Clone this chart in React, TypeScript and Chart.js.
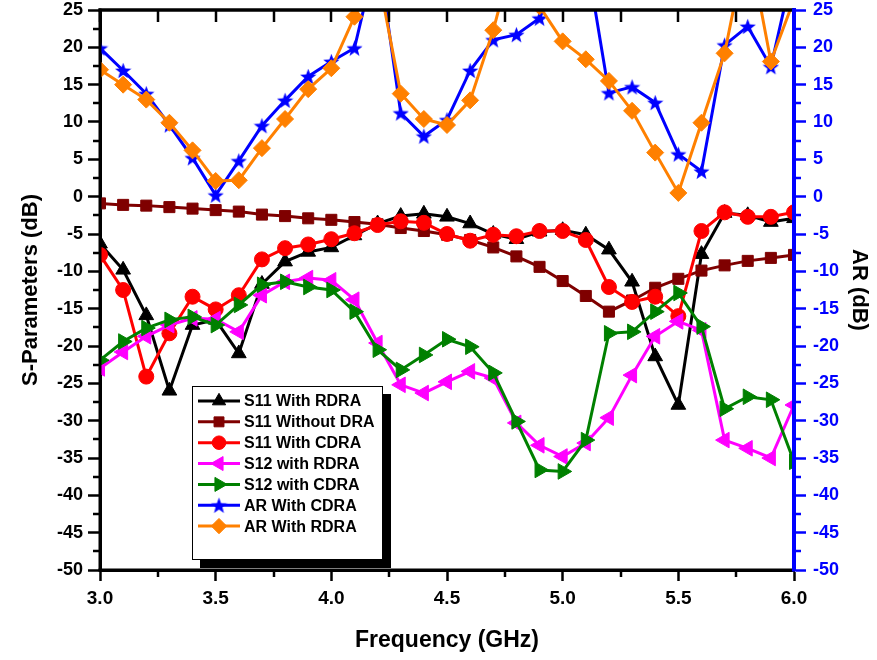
import React, { useEffect, useRef } from 'react';
import { Chart, registerables } from 'chart.js';
import { drawPoint } from 'chart.js/helpers';

Chart.register(...registerables);

// ---------------- data ----------------
const freqGHz = [3.0, 3.1, 3.2, 3.3, 3.4, 3.5, 3.6, 3.7, 3.8, 3.9, 4.0, 4.1, 4.2, 4.3, 4.4, 4.5, 4.6, 4.7, 4.8, 4.9, 5.0, 5.1, 5.2, 5.3, 5.4, 5.5, 5.6, 5.7, 5.8, 5.9, 6.0];

const s11WithRDRA = [-6.3, -9.8, -15.9, -26.0, -17.2, -16.5, -21.0, -11.7, -8.7, -7.4, -6.8, -5.2, -3.6, -2.6, -2.3, -2.7, -3.6, -5.0, -5.7, -4.7, -4.5, -5.1, -7.1, -11.4, -21.4, -27.9, -7.7, -2.2, -2.5, -3.4, -2.9];
const s11WithoutDRA = [-0.9, -1.1, -1.2, -1.4, -1.6, -1.8, -2.0, -2.4, -2.6, -2.9, -3.1, -3.4, -3.7, -4.2, -4.6, -5.1, -5.8, -6.8, -8.0, -9.4, -11.3, -13.3, -15.4, -13.9, -12.2, -11.0, -9.9, -9.2, -8.6, -8.2, -7.8];
const s11WithCDRA = [-7.8, -12.5, -24.1, -18.3, -13.4, -15.1, -13.2, -8.4, -6.9, -6.4, -5.7, -4.9, -3.8, -3.3, -3.5, -5.0, -5.9, -5.1, -5.3, -4.6, -4.6, -5.8, -12.1, -14.1, -13.4, -16.0, -4.6, -2.1, -2.7, -2.7, -2.1];
const s12WithRDRA = [-23.0, -20.8, -18.7, -17.2, -16.3, -16.4, -18.1, -13.2, -11.4, -10.9, -11.2, -13.8, -19.6, -25.2, -26.3, -24.8, -23.4, -24.3, -30.3, -33.3, -34.8, -33.0, -29.6, -23.9, -18.7, -16.7, -17.9, -32.6, -33.7, -35.0, -27.9];
const s12WithCDRA = [-21.9, -19.4, -17.6, -16.5, -16.1, -17.2, -14.5, -11.8, -11.4, -12.1, -12.5, -15.4, -20.5, -23.2, -21.2, -19.1, -20.1, -23.6, -30.1, -36.6, -36.8, -32.6, -18.3, -18.1, -15.4, -12.9, -17.4, -28.4, -26.8, -27.2, -35.5];
const arWithCDRA = [19.9, 16.9, 13.8, 9.6, 5.2, 0.2, 4.8, 9.5, 12.9, 16.1, 18.1, 19.9, 33.0, 11.2, 8.1, 10.3, 16.9, 21.0, 21.7, 23.9, 31.0, 32.6, 13.9, 14.7, 12.6, 5.7, 3.4, 20.3, 22.8, 17.4, 31.0];
const arWithRDRA = [17.0, 15.0, 13.0, 9.9, 6.2, 2.1, 2.2, 6.5, 10.4, 14.4, 17.2, 24.1, 30.0, 13.8, 10.4, 9.6, 12.9, 22.3, 34.0, 25.5, 20.8, 18.4, 15.5, 11.5, 5.9, 0.5, 9.9, 19.2, 34.5, 18.1, 26.4];

const seriesLabels = ['S11 With RDRA', 'S11 Without DRA', 'S11 With CDRA', 'S12 with RDRA', 'S12 with CDRA', 'AR With CDRA', 'AR With RDRA'];
const seriesValues = [s11WithRDRA, s11WithoutDRA, s11WithCDRA, s12WithRDRA, s12WithCDRA, arWithCDRA, arWithRDRA];

const xTickLabels = ['3.0', '3.5', '4.0', '4.5', '5.0', '5.5', '6.0'];

// ---------------- styles ----------------
const seriesColors = ['#000000', '#7f0000', '#ff0000', '#ff00ff', '#008000', '#0000ff', '#ff8000'];
const seriesMarkers = ['triangle', 'rect', 'circle', 'triangle', 'triangle', 'star', 'rectRot'];
const seriesRotation = [0, 0, 0, -90, 90, 0, 0];
const seriesRadius = [8.5, 7.8, 7.5, 9, 9, 8, 8.5];
const seriesAxis = ['y', 'y', 'y', 'y', 'y', 'y1', 'y1'];

const FONT = "'Liberation Sans', Arial, Helvetica, sans-serif";

function makeStar(color: string, size: number) {
  const c = document.createElement('canvas');
  c.width = size;
  c.height = size;
  const g = c.getContext('2d')!;
  const cx = size / 2;
  const cy = size / 2 + 0.8;
  const R = size / 2;
  const r = R * 0.42;
  g.beginPath();
  for (let k = 0; k < 10; k++) {
    const ang = -Math.PI / 2 + (k * Math.PI) / 5;
    const rad = k % 2 === 0 ? R : r;
    const px = cx + rad * Math.cos(ang);
    const py = cy + rad * Math.sin(ang);
    if (k === 0) g.moveTo(px, py);
    else g.lineTo(px, py);
  }
  g.closePath();
  g.fillStyle = color;
  g.fill();
  return c;
}

const framePlugin = {
  id: 'originFrame',
  afterDatasetsDraw(chart: any) {
    const { ctx, chartArea } = chart;
    const { left, right, top, bottom } = chartArea;
    const xs = chart.scales.x;
    const ys = chart.scales.y;
    const y1 = chart.scales.y1;
    ctx.save();
    ctx.lineCap = 'butt';
    ctx.setLineDash([]);
    ctx.strokeStyle = '#000';
    ctx.lineWidth = 2.5;
    for (let k = 0; k <= 12; k++) {
      const v = 3 + k * 0.25;
      const px = Math.round(xs.getPixelForValue(v));
      ctx.beginPath();
      ctx.moveTo(px, top);
      ctx.lineTo(px, top + 12);
      ctx.stroke();
      if (k % 2 === 1) {
        ctx.beginPath();
        ctx.moveTo(px, bottom);
        ctx.lineTo(px, bottom + 7);
        ctx.stroke();
      }
    }
    for (let k = 0; k < 15; k++) {
      const v = -47.5 + k * 5;
      const py = Math.round(ys.getPixelForValue(v));
      ctx.strokeStyle = '#000';
      ctx.beginPath();
      ctx.moveTo(left, py);
      ctx.lineTo(left - 7, py);
      ctx.stroke();
      const py1 = Math.round(y1.getPixelForValue(v));
      ctx.strokeStyle = '#0000ff';
      ctx.beginPath();
      ctx.moveTo(right, py1);
      ctx.lineTo(right + 7, py1);
      ctx.stroke();
    }
    ctx.strokeStyle = '#000';
    ctx.lineWidth = 3.5;
    ctx.beginPath();
    ctx.moveTo(left - 1.5, top);
    ctx.lineTo(right, top);
    ctx.stroke();
    ctx.lineWidth = 3;
    ctx.beginPath();
    ctx.moveTo(left, top - 1.5);
    ctx.lineTo(left, bottom + 1.5);
    ctx.stroke();
    ctx.beginPath();
    ctx.moveTo(left - 1.5, bottom);
    ctx.lineTo(right, bottom);
    ctx.stroke();
    ctx.strokeStyle = '#0000ff';
    ctx.lineWidth = 4;
    ctx.beginPath();
    ctx.moveTo(right, top - 1.75);
    ctx.lineTo(right, bottom + 1.5);
    ctx.stroke();
    ctx.restore();
  },
};

const boxLegendPlugin = {
  id: 'boxLegend',
  afterDraw(chart: any) {
    const { ctx, chartArea } = chart;
    const bx = chartArea.left + 92;
    const by = chartArea.top + 376;
    const bw = 191;
    const bh = 174;
    ctx.save();
    ctx.fillStyle = '#000';
    ctx.fillRect(bx + 8, by + 8, bw, bh);
    ctx.fillStyle = '#fff';
    ctx.fillRect(bx, by, bw, bh);
    ctx.strokeStyle = '#000';
    ctx.lineWidth = 1;
    ctx.strokeRect(bx + 0.5, by + 0.5, bw - 1, bh - 1);
    ctx.font = `bold 16px ${FONT}`;
    ctx.textBaseline = 'middle';
    ctx.textAlign = 'left';
    chart.data.datasets.forEach((ds: any, i: number) => {
      const yy = by + 15 + i * 20.85;
      ctx.strokeStyle = ds.borderColor;
      ctx.lineWidth = 3;
      ctx.setLineDash([]);
      ctx.beginPath();
      ctx.moveTo(bx + 6, yy);
      ctx.lineTo(bx + 48, yy);
      ctx.stroke();
      ctx.fillStyle = ds.pointBackgroundColor;
      ctx.strokeStyle = ds.pointBorderColor;
      ctx.lineWidth = 1;
      drawPoint(ctx, { pointStyle: ds.pointStyle, rotation: ds.pointRotation, radius: ds.pointRadius * 0.9, borderWidth: 1 }, bx + 27, yy);
      ctx.fillStyle = '#000';
      ctx.fillText(ds.label, bx + 52, yy + 1);
    });
    ctx.restore();
  },
};

export default function App() {
  const ref = useRef<HTMLCanvasElement>(null);

  useEffect(() => {
    if (!ref.current) return;
    const star = makeStar('#0000ff', 17);
    const datasets = seriesLabels.map((label, i) => ({
      label,
      data: freqGHz.map((f, j) => ({ x: f, y: seriesValues[i][j] })),
      yAxisID: seriesAxis[i],
      borderColor: seriesColors[i],
      backgroundColor: seriesColors[i],
      borderWidth: 3,
      pointStyle: seriesMarkers[i] === 'star' ? star : seriesMarkers[i],
      pointRotation: seriesRotation[i],
      pointRadius: seriesRadius[i],
      pointBackgroundColor: seriesColors[i],
      pointBorderColor: seriesColors[i],
      pointBorderWidth: 1,
      tension: 0,
      fill: false,
      clip: { left: 0, top: 0, right: 0, bottom: 0 },
      order: seriesLabels.length - i,
    }));

    const tickFont = { family: FONT, size: 18, weight: 'bold' as const };
    const xTickFont = { family: FONT, size: 19, weight: 'bold' as const };
    const titleFont = { family: FONT, size: 22, weight: 'bold' as const, lineHeight: 1 };

    const chart = new Chart(ref.current, {
      type: 'line',
      data: { datasets },
      options: {
        animation: false,
        responsive: false,
        maintainAspectRatio: false,
        layout: { padding: { top: 10, left: 0, right: 0, bottom: 0 } },
        plugins: {
          legend: { display: false },
          tooltip: { enabled: false },
        },
        scales: {
          x: {
            type: 'linear',
            position: 'bottom',
            min: 3,
            max: 6,
            ticks: {
              stepSize: 0.5,
              autoSkip: false,
              maxRotation: 0,
              color: '#000',
              font: xTickFont,
              padding: 6,
              callback: (v: any) => {
                const idx = Math.round((Number(v) - 3) / 0.5);
                return xTickLabels[idx] ?? '';
              },
            },
            grid: { drawOnChartArea: false, drawTicks: true, tickLength: 11, tickWidth: 2.5, tickColor: '#000' },
            border: { display: true, color: '#000', width: 3 },
            title: { display: true, text: 'Frequency (GHz)', color: '#000', font: { ...titleFont, size: 23 }, padding: { top: 0, bottom: 8 } },
            afterFit: (s: any) => { s.height = 90; s.paddingLeft = 0; s.paddingRight = 0; },
          },
          y: {
            type: 'linear',
            position: 'left',
            min: -50,
            max: 25,
            ticks: { stepSize: 5, autoSkip: false, color: '#000', font: tickFont, padding: 5 },
            grid: { drawOnChartArea: false, drawTicks: true, tickLength: 12, tickWidth: 2.5, tickColor: '#000' },
            border: { display: true, color: '#000', width: 3 },
            title: { display: true, text: 'S-Parameters (dB)', color: '#000', font: titleFont, padding: { top: 20, bottom: 0 } },
            afterFit: (s: any) => { s.width = 100; s.paddingTop = 0; s.paddingBottom = 0; },
          },
          y1: {
            type: 'linear',
            position: 'right',
            min: -50,
            max: 25,
            ticks: { stepSize: 5, autoSkip: false, color: '#0000ff', font: tickFont, padding: 7 },
            grid: { drawOnChartArea: false, drawTicks: true, tickLength: 12, tickWidth: 2.5, tickColor: '#0000ff' },
            border: { display: true, color: '#0000ff', width: 4 },
            title: { display: true, text: 'AR (dB)', color: '#000', font: titleFont, padding: { top: 7, bottom: 0 } },
            afterFit: (s: any) => { s.width = 83; s.paddingTop = 0; s.paddingBottom = 0; },
          },
        },
      },
      plugins: [framePlugin, boxLegendPlugin],
    });
    return () => chart.destroy();
  }, []);

  return (
    <div style={{ position: 'absolute', left: 0, top: 0, width: 877, height: 660, background: '#fff' }}>
      <canvas ref={ref} width={877} height={660} style={{ display: 'block' }} />
    </div>
  );
}
